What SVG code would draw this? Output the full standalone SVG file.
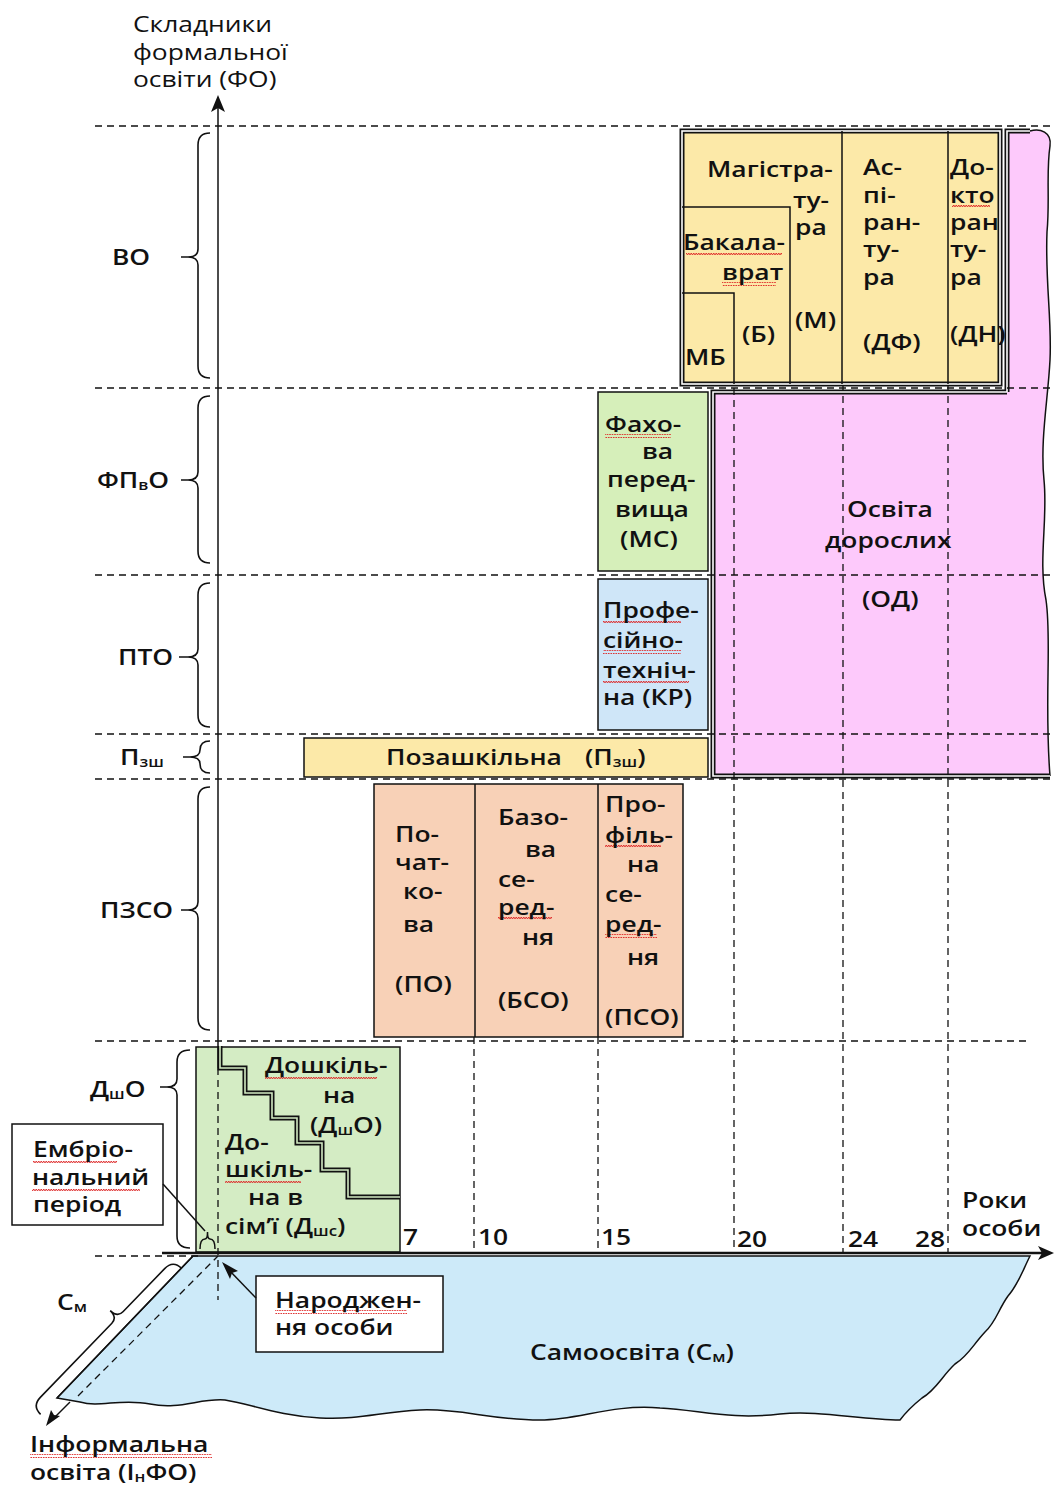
<svg xmlns="http://www.w3.org/2000/svg" width="1054" height="1485" viewBox="0 0 1054 1485">
<style>
.t{font-family:"Open Sans","Noto Sans",sans-serif;font-size:22px;font-weight:600;fill:#111}
.big{font-size:22px;font-weight:500}
.sub{font-size:14px}
.dash{stroke:#111;stroke-width:1.3;stroke-dasharray:7 5;fill:none}
.box{stroke:#111;stroke-width:1.5}
.ln{stroke:#111;stroke-width:1.5;fill:none}
.br{stroke:#111;stroke-width:1.6;fill:none}
.sq{fill:url(#squig)}
</style>
<defs>
<pattern id="squig" width="5" height="4" patternUnits="userSpaceOnUse">
<path d="M0,3 L1.25,1 L2.5,3 L3.75,1 L5,3" stroke="#d22" stroke-width="0.9" fill="none"/>
</pattern>
</defs>
<rect width="1054" height="1485" fill="#fff"/>

<!-- Self-education region -->
<g id="samoosvita">
<path d="M193,1256 L1030,1256 C1022,1272 1018,1285 1008,1296 C998,1310 996,1322 985,1332 C972,1346 968,1356 955,1364 C942,1376 936,1390 922,1398 C912,1406 906,1412 900,1420 C860,1420 820,1410 780,1414 C730,1420 700,1410 660,1408 C610,1404 580,1420 540,1420 C490,1420 460,1408 420,1410 C380,1412 360,1420 320,1418 C280,1416 250,1404 225,1400 C200,1398 180,1410 150,1404 C120,1398 100,1408 80,1402 L57,1398 Z" fill="#cdeaf9" stroke="#111" stroke-width="1.5"/>
<path d="M57,1398 L193,1256" class="ln"/>
<path d="M78,1396 L218,1256" class="dash"/>
</g>

<!-- Adult education (pink) -->
<g id="osvita-doroslykh">
<path d="M1007,131 L1030,131 C1040,128 1052,132 1050,146 C1046,172 1050,200 1047,232 C1045,280 1052,320 1050,360 C1048,400 1040,440 1044,480 C1048,520 1038,560 1046,600 C1052,640 1044,700 1050,776 L713,776 L713,392 L1007,392 Z" fill="#fdc9fb"/>
<path d="M1050,146 C1046,172 1050,200 1047,232 C1045,280 1052,320 1050,360 C1048,400 1040,440 1044,480 C1048,520 1038,560 1046,600 C1052,640 1044,700 1050,776" class="ln"/>
<path d="M1030,131 C1040,128 1052,132 1050,146" class="ln"/>
<path d="M1030,131 L1007,131 L1007,392 M1050,776 L713,776 L713,392 L1007,392" fill="none" stroke="#111" stroke-width="5"/>
<path d="M1030,131 L1007,131 L1007,392 M1050,776 L713,776 L713,392 L1007,392" fill="none" stroke="#fff" stroke-width="1.6"/>
</g>

<!-- Grid (dashed) -->
<g id="grid">
<path class="dash" d="M95,126 H1054 M95,388 H1054 M95,575 H1054 M95,734 H1054 M95,779 H1054 M95,1041 H1030 M95,1256 H200"/>
<path class="dash" d="M474,1037 V1252 M598,1037 V1252 M734,388 V1252 M843,384 V1252 M948,384 V1252"/>
</g>

<!-- Higher education block -->
<g id="vo">
<rect x="682" y="131" width="318" height="253" fill="#fce9a8"/>
<rect x="682" y="131" width="318" height="253" fill="none" stroke="#111" stroke-width="5"/>
<rect x="682" y="131" width="318" height="253" fill="none" stroke="#fff" stroke-width="1.6"/>
<path class="ln" d="M842,131 V384 M948,131 V384 M682,207 H790 V384 M682,293 H734 V384"/>
</g>

<g id="fakhova"><rect class="box" x="598" y="392" width="110" height="179" fill="#d6efba"/></g>
<g id="pto"><rect class="box" x="598" y="579" width="110" height="151" fill="#cfe6f8"/></g>
<g id="pozashkilna"><rect class="box" x="304" y="738" width="404" height="39" fill="#fce9a8"/></g>
<g id="pzso">
<rect class="box" x="374" y="784" width="309" height="253" fill="#f8d1b7"/>
<path class="ln" d="M475,784 V1037 M598,784 V1037"/>
</g>
<g id="dsho">
<rect class="box" x="196" y="1047" width="204" height="205" fill="#d4ecc4"/>
<path d="M220,1046 V1068 H245 V1093 H272 V1118 H297 V1143 H322 V1170 H348 V1197 H400" fill="none" stroke="#111" stroke-width="5"/>
<path d="M220,1046 V1068 H245 V1093 H272 V1118 H297 V1143 H322 V1170 H348 V1197 H400" fill="none" stroke="#d4ecc4" stroke-width="1.6"/>
<path class="dash" d="M218,1068 V1300"/>
<path class="ln" d="M200,1249 Q200,1239 205,1239 Q207.5,1239 207.5,1232 Q207.5,1239 210,1239 Q215,1239 215,1249"/>
</g>

<!-- Axes -->
<g id="axes">
<path class="ln" d="M218,104 V1068"/>
<polygon points="218,95 211,112 218,108 225,112" fill="#111"/>
<path d="M162,1253 H1044" stroke="#111" stroke-width="2.5"/>
<polygon points="1054,1253 1038,1246 1042,1253 1038,1260" fill="#111"/>
</g>

<!-- Braces -->
<g id="braces">
<path class="br" d="M210,133 Q198,133 198,145 L198,249 Q198,257 188,257 Q198,257 198,265 L198,366 Q198,378 210,378 M188,257 H181"/>
<path class="br" d="M210,396 Q198,396 198,408 L198,472 Q198,480 188,480 Q198,480 198,488 L198,551 Q198,563 210,563 M188,480 H181"/>
<path class="br" d="M210,583 Q198,583 198,595 L198,649 Q198,657 188,657 Q198,657 198,665 L198,715 Q198,727 210,727 M188,657 H179"/>
<path class="br" d="M210,741 Q200,741 200,750 Q200,757 190,757 Q200,757 200,764 Q200,773 210,773 M190,757 H183"/>
<path class="br" d="M210,787 Q198,787 198,799 L198,902 Q198,910 188,910 Q198,910 198,918 L198,1018 Q198,1030 210,1030 M188,910 H181"/>
<path class="br" d="M190,1050 Q177,1050 177,1062 L177,1079 Q177,1087 167,1087 Q177,1087 177,1095 L177,1236 Q177,1248 190,1248 M167,1087 H160"/>
<path class="br" transform="translate(173,1260) rotate(44)" d="M12,0 Q0,0 0,12 L0,72 Q0,80 -10,80 Q0,80 0,88 L0,191 Q0,203 12,203"/>
</g>

<!-- Callout boxes -->
<g id="embrio"><rect class="box" x="12" y="1124" width="151" height="101" fill="#fff"/></g>
<g id="narodzhennya"><rect class="box" x="256" y="1276" width="187" height="76" fill="#fff"/></g>

<!-- Connectors -->
<g id="connectors">
<path class="ln" d="M163,1184 L205,1231"/>
<path class="ln" d="M256,1298 L228,1269"/>
<polygon points="222,1262 238,1271 232,1273 230,1279" fill="#111"/>
<path class="ln" d="M70,1402 L54,1418"/>
<polygon points="46,1426 51,1410 54,1415 60,1416" fill="#111"/>
</g>

<!-- Spell-check squiggles -->
<g id="squiggles">
<rect class="sq" x="686" y="252" width="96" height="4"/>
<rect class="sq" x="722" y="282" width="54" height="4"/>
<rect class="sq" x="952" y="205" width="38" height="4"/>
<rect class="sq" x="605" y="434" width="66" height="4"/>
<rect class="sq" x="603" y="620" width="78" height="4"/>
<rect class="sq" x="603" y="650" width="78" height="4"/>
<rect class="sq" x="603" y="680" width="86" height="4"/>
<rect class="sq" x="498" y="917" width="54" height="4"/>
<rect class="sq" x="605" y="845" width="56" height="4"/>
<rect class="sq" x="605" y="934" width="52" height="4"/>
<rect class="sq" x="265" y="1075" width="112" height="4"/>
<rect class="sq" x="225" y="1179" width="76" height="4"/>
<rect class="sq" x="33" y="1159" width="84" height="4"/>
<rect class="sq" x="32" y="1187" width="108" height="4"/>
<rect class="sq" x="275" y="1310" width="132" height="4"/>
<rect class="sq" x="30" y="1454" width="182" height="4"/>
</g>

<!-- Texts (horizontally widened) -->
<g id="labels" transform="scale(1.2,1)">
<text class="t big" x="110.8" y="32">Складники</text>
<text class="t big" x="110.8" y="60">формальної</text>
<text class="t big" x="110.8" y="87">освіти (ФО)</text>

<text class="t" x="93.3" y="265">ВО</text>
<text class="t" x="80.8" y="488">ФП<tspan class="sub" dy="2">в</tspan><tspan dy="-2">О</tspan></text>
<text class="t" x="98.3" y="665">ПТО</text>
<text class="t" x="100" y="765">П<tspan class="sub" dy="2">зш</tspan></text>
<text class="t" x="83.3" y="918">ПЗСО</text>
<text class="t" x="75" y="1097">Д<tspan class="sub" dy="2">ш</tspan><tspan dy="-2">О</tspan></text>

<text class="t" x="589.2" y="177">Магістра-</text>
<text class="t" x="660.8" y="208">ту-</text>
<text class="t" x="662.5" y="235">ра</text>
<text class="t" x="662.5" y="328">(М)</text>
<text class="t" x="569.2" y="250">Бакала-</text>
<text class="t" x="601.7" y="280">врат</text>
<text class="t" x="618.3" y="342">(Б)</text>
<text class="t" x="570.8" y="365">МБ</text>
<text class="t" x="719.2" y="175">Ас-</text>
<text class="t" x="719.2" y="203">пі-</text>
<text class="t" x="719.2" y="230">ран-</text>
<text class="t" x="719.2" y="257">ту-</text>
<text class="t" x="719.2" y="285">ра</text>
<text class="t" x="719.2" y="350">(ДФ)</text>
<text class="t" x="791.7" y="175">До-</text>
<text class="t" x="791.7" y="203">кто</text>
<text class="t" x="791.7" y="230">ран</text>
<text class="t" x="791.7" y="257">ту-</text>
<text class="t" x="791.7" y="285">ра</text>
<text class="t" x="791.7" y="342">(ДН)</text>

<text class="t" x="504.2" y="432">Фахо-</text>
<text class="t" x="535" y="459">ва</text>
<text class="t" x="505.8" y="487">перед-</text>
<text class="t" x="512.5" y="517">вища</text>
<text class="t" x="516.7" y="547">(МС)</text>

<text class="t" x="502.5" y="618">Профе-</text>
<text class="t" x="502.5" y="648">сійно-</text>
<text class="t" x="502.5" y="678">техніч-</text>
<text class="t" x="502.5" y="705">на (КР)</text>

<text class="t" x="705.8" y="517">Освіта</text>
<text class="t" x="687.5" y="548">дорослих</text>
<text class="t" x="718.3" y="607">(ОД)</text>

<text class="t" x="321.7" y="765">Позашкільна</text>
<text class="t" x="487.5" y="765">(П<tspan class="sub" dy="2">зш</tspan><tspan dy="-2">)</tspan></text>

<text class="t" x="329.2" y="842">По-</text>
<text class="t" x="329.2" y="870">чат-</text>
<text class="t" x="335.8" y="899">ко-</text>
<text class="t" x="335.8" y="932">ва</text>
<text class="t" x="329.2" y="992">(ПО)</text>

<text class="t" x="415" y="825">Базо-</text>
<text class="t" x="437.5" y="857">ва</text>
<text class="t" x="415" y="887">се-</text>
<text class="t" x="415" y="915">ред-</text>
<text class="t" x="435" y="945">ня</text>
<text class="t" x="415" y="1008">(БСО)</text>

<text class="t" x="504.2" y="812">Про-</text>
<text class="t" x="504.2" y="843">філь-</text>
<text class="t" x="522.5" y="872">на</text>
<text class="t" x="504.2" y="902">се-</text>
<text class="t" x="504.2" y="932">ред-</text>
<text class="t" x="522.5" y="965">ня</text>
<text class="t" x="504.2" y="1025">(ПСО)</text>

<text class="t" x="220.8" y="1073">Дошкіль-</text>
<text class="t" x="269.2" y="1103">на</text>
<text class="t" x="258.3" y="1133">(Д<tspan class="sub" dy="2">ш</tspan><tspan dy="-2">О)</tspan></text>
<text class="t" x="187.5" y="1150">До-</text>
<text class="t" x="187.5" y="1177">шкіль-</text>
<text class="t" x="206.7" y="1205">на в</text>
<text class="t" x="187.5" y="1234">сім’ї (Д<tspan class="sub" dy="2">шс</tspan><tspan dy="-2">)</tspan></text>

<text class="t" x="27.5" y="1157">Ембріо-</text>
<text class="t" x="26.7" y="1185">нальний</text>
<text class="t" x="27.5" y="1212">період</text>

<text class="t" x="335.8" y="1245">7</text>
<text class="t" x="398.3" y="1245">10</text>
<text class="t" x="500.8" y="1245">15</text>
<text class="t" x="614.2" y="1247">20</text>
<text class="t" x="706.7" y="1247">24</text>
<text class="t" x="762.5" y="1247">28</text>
<text class="t" x="801.7" y="1208">Роки</text>
<text class="t" x="801.7" y="1236">особи</text>

<text class="t" x="229.2" y="1308">Народжен-</text>
<text class="t" x="229.2" y="1335">ня  особи</text>
<text class="t" x="441.7" y="1360">Самоосвіта (С<tspan class="sub" dy="2">м</tspan><tspan dy="-2">)</tspan></text>
<text class="t" x="47.5" y="1310">С<tspan class="sub" dy="2">м</tspan></text>
<text class="t" x="25" y="1452">Інформальна</text>
<text class="t" x="25" y="1480">освіта (I<tspan class="sub" dy="2">н</tspan><tspan dy="-2">ФО)</tspan></text>
</g>
</svg>
